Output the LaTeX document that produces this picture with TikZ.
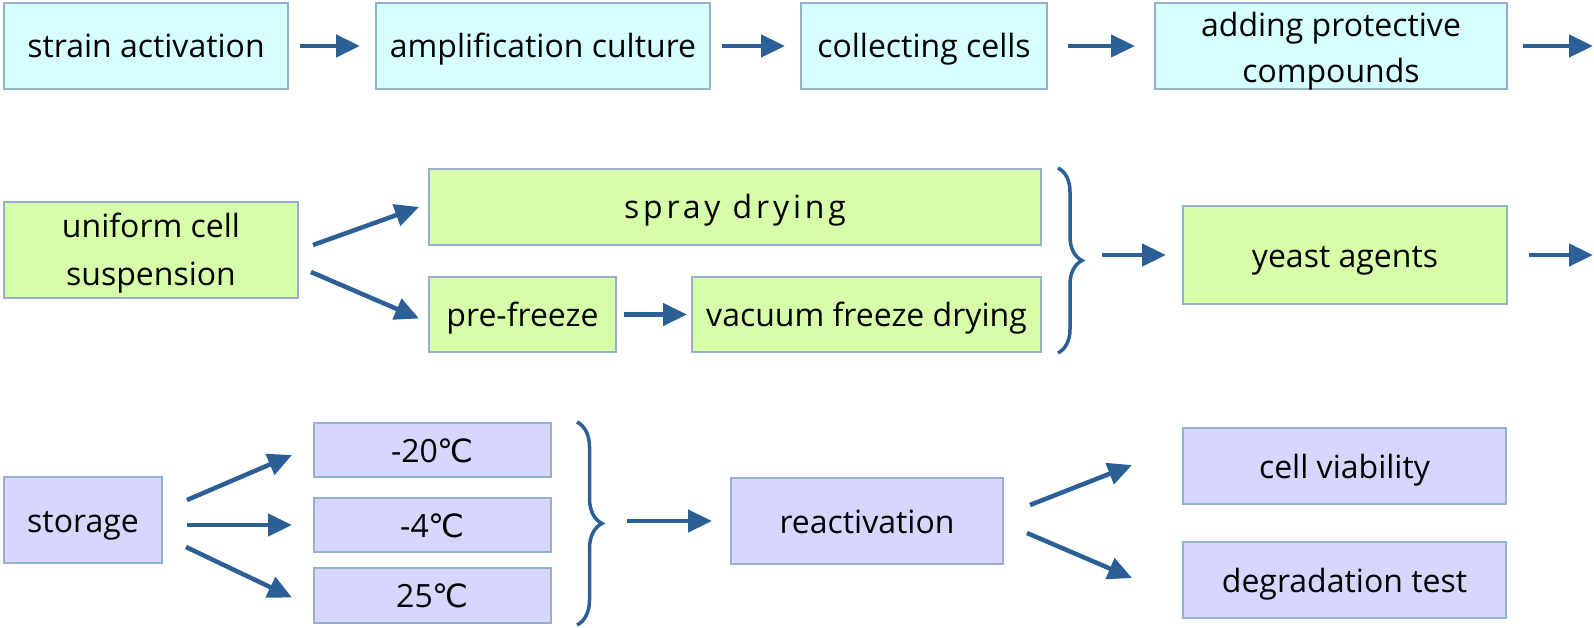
\documentclass[tikz,border=0pt]{standalone}
\usepackage{fontspec}
\setmainfont{Open Sans}
\newfontfamily\degfont{DejaVu Sans}
\usetikzlibrary{arrows.meta,decorations.pathreplacing}
\definecolor{cyanbox}{RGB}{214,255,255}
\definecolor{greenbox}{RGB}{215,255,170}
\definecolor{violetbox}{RGB}{214,214,255}
\definecolor{boxline}{RGB}{150,175,205}
\definecolor{arrowblue}{RGB}{43,95,150}
\newcommand{\degC}{{\degfont ℃}}
\begin{document}
\begin{tikzpicture}[x=1pt, y=-1pt,
        box/.style={draw=boxline, line width=2pt, align=center, inner sep=0pt, text height=24pt, text depth=0pt, font=\fontsize{32}{48}\selectfont},
        cyanstep/.style={box, fill=cyanbox},
        greenstep/.style={box, fill=greenbox},
        violetstep/.style={box, fill=violetbox},
        flow/.style={draw=arrowblue, line width=4.5pt, -{Triangle[length=24pt,width=22pt]}, shorten <=11pt, shorten >=15pt},
        curly/.style={draw=arrowblue, line width=3.5pt, decorate, decoration={brace, amplitude=24pt}}]
        \useasboundingbox (0,0) rectangle (1594,628);
        % preparation
        \node[cyanstep, minimum width=284pt, minimum height=86pt] (sa) at (146,46) {strain activation};
        \node[cyanstep, minimum width=334pt, minimum height=86pt] (ac) at (543,46) {amplification culture};
        \node[cyanstep, minimum width=246pt, minimum height=86pt] (cc) at (924,46) {collecting cells};
        \node[cyanstep, minimum width=352pt, minimum height=86pt, text height=74pt, font=\fontsize{32}{46}\selectfont] (apc) at (1331,46) {adding protective\\compounds};
        \coordinate (outa) at (1593,46);
        \draw[flow] (sa) -- (ac);
        \draw[flow] (ac) -- (cc);
        \draw[flow, shorten <=20pt, shorten >=19pt] (cc) -- (apc);
        \draw[flow, shorten <=15pt, shorten >=0pt] (apc) -- (outa);
        % drying
        \node[greenstep, minimum width=294pt, minimum height=96pt, text height=72pt, text depth=2pt] (ucs) at (151,250) {uniform cell\\suspension};
        \node[greenstep, minimum width=612pt, minimum height=76pt] (sd) at (735,207) {\addfontfeature{LetterSpace=12}spray drying};
        \node[greenstep, minimum width=187pt, minimum height=75pt] (pf) at (522.5,314.5) {pre-freeze};
        \node[greenstep, minimum width=349pt, minimum height=75pt] (vfd) at (866.5,314.5) {vacuum freeze drying};
        \node[greenstep, minimum width=324pt, minimum height=98pt] (ya) at (1345,255) {yeast agents};
        \coordinate (bra) at (1082,255);
        \coordinate (outb) at (1593,255);
        \draw[flow, shorten <=0pt, shorten >=0pt] ([shift={(14,-5)}]ucs.east) -- ([xshift=-9pt]sd.west);
        \draw[flow, shorten <=0pt, shorten >=0pt] ([shift={(12,22)}]ucs.east) -- ([shift={(-9,4)}]pf.west);
        \draw[flow, shorten <=7pt, shorten >=4pt] (pf) -- (vfd);
        \draw[curly] (1058,168) -- (1058,353);
        \draw[flow, shorten <=20pt, shorten >=16pt] (bra) -- (ya);
        \draw[flow, shorten <=21pt, shorten >=0pt] (ya) -- (outb);
        % storage
        \node[violetstep, minimum width=158pt, minimum height=86pt] (st) at (83,520) {storage};
        \node[violetstep, minimum width=237pt, minimum height=54pt] (ta) at (432.5,450) {-20\degC};
        \node[violetstep, minimum width=237pt, minimum height=54pt] (tb) at (432.5,525) {-4\degC};
        \node[violetstep, minimum width=237pt, minimum height=55pt] (tc) at (432.5,595.5) {25\degC};
        \node[violetstep, minimum width=272pt, minimum height=86pt] (re) at (867,521) {reactivation};
        \node[violetstep, minimum width=323pt, minimum height=76pt] (cv) at (1344.5,466) {cell viability};
        \node[violetstep, minimum width=323pt, minimum height=76pt] (dt) at (1344.5,580) {degradation test};
        \coordinate (brb) at (602,521);
        \draw[flow, shorten <=0pt, shorten >=0pt] ([shift={(24,-20)}]st.east) -- ([shift={(-21,5)}]ta.west);
        \draw[flow, shorten <=0pt, shorten >=0pt] ([shift={(24,5)}]st.east) -- ([xshift=-21pt]tb.west);
        \draw[flow, shorten <=0pt, shorten >=0pt] ([shift={(23,27)}]st.east) -- ([shift={(-21,2)}]tc.west);
        \draw[curly, decoration={amplitude=25pt}] (577,422) -- (577,625);
        \draw[flow, shorten <=25pt, shorten >=18pt] (brb) -- (re);
        \draw[flow, shorten <=0pt, shorten >=0pt] ([shift={(26,-16)}]re.east) -- ([shift={(-50,-1)}]cv.west);
        \draw[flow, shorten <=0pt, shorten >=0pt] ([shift={(23,12)}]re.east) -- ([shift={(-50,-2)}]dt.west);
    \end{tikzpicture}
\end{document}
